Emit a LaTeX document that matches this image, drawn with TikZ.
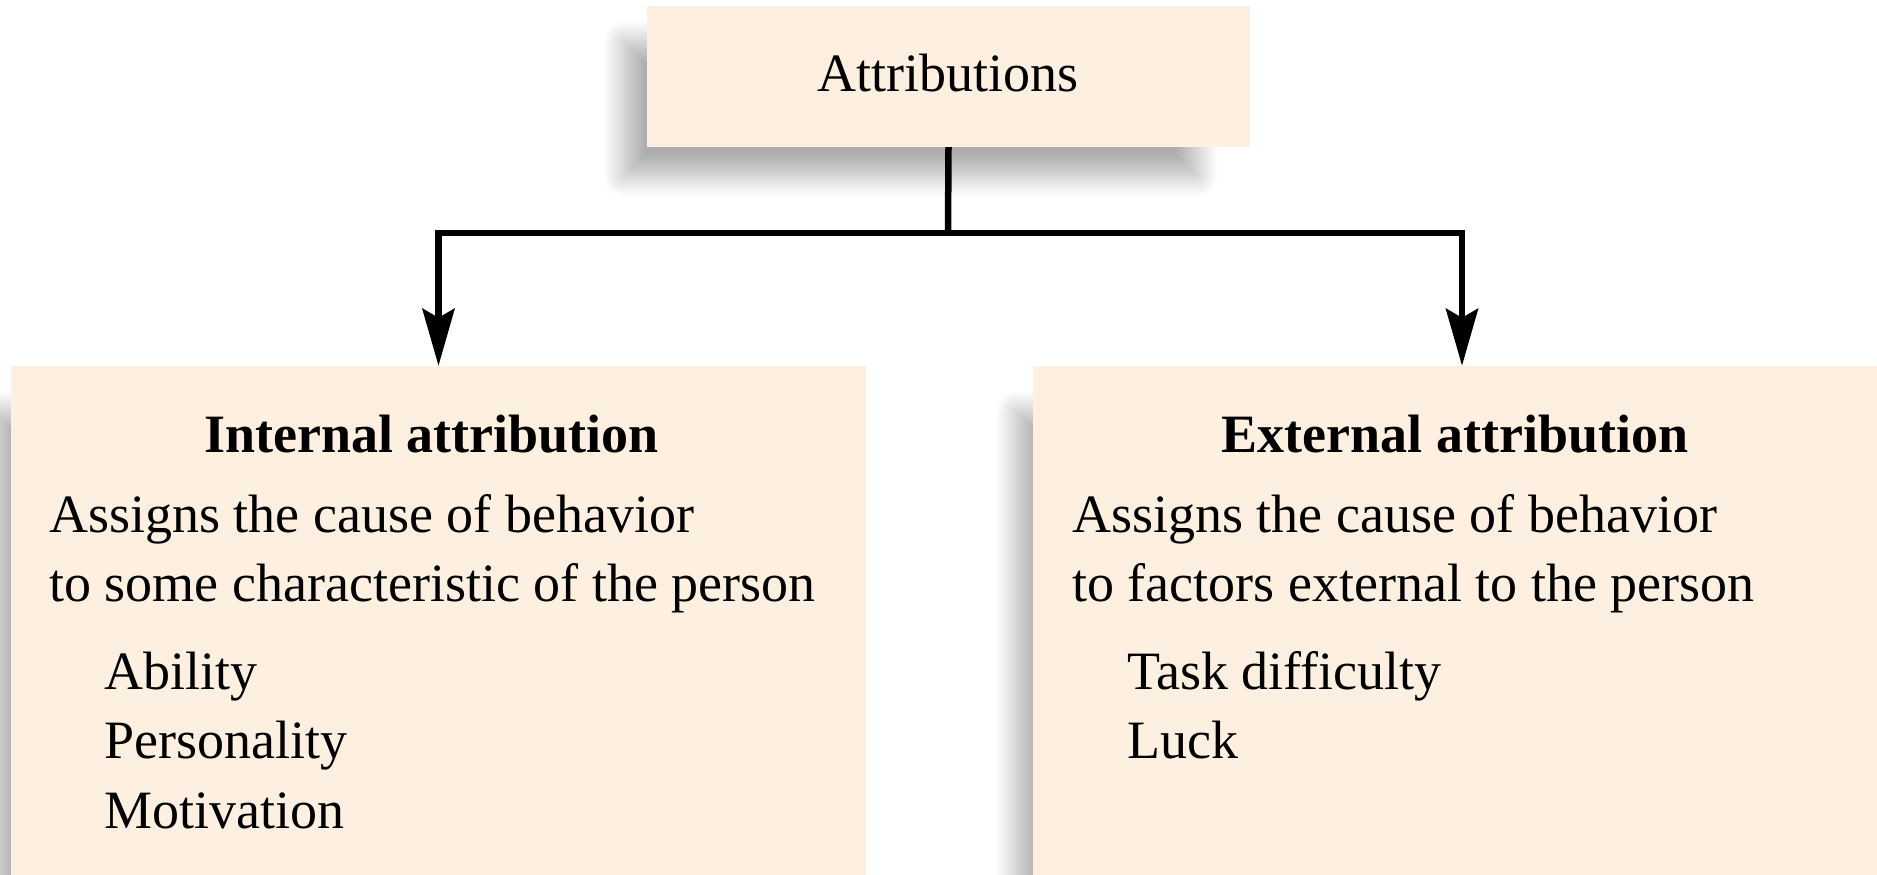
\documentclass[tikz,border=0pt]{standalone}
\usepackage{fontspec}
\setmainfont{Liberation Serif}
\usetikzlibrary{arrows.meta,shadows.blur}

\definecolor{boxfill}{RGB}{253,240,224}

\tikzset{
  panel/.style={draw=none, fill=boxfill, inner sep=0pt,
    blur shadow={shadow xshift=-40pt, shadow yshift=-34pt, shadow scale=0.95,
                 shadow blur radius=22pt, shadow blur steps=24,
                 shadow opacity=32}},
  txt/.style={inner sep=0pt, font=\fontsize{54}{66}\selectfont},
  head/.style={txt, font=\fontsize{54}{66}\selectfont\bfseries},
  link/.style={line width=6.5pt, black},
  tip/.style={-{Stealth[length=57pt, width=32pt, inset=9pt]}}
}

\begin{document}
\begin{tikzpicture}[x=1pt, y=-1pt]
  \useasboundingbox (0,0) rectangle (1877,875);

  % boxes
  \node[panel, minimum width=603pt, minimum height=141pt] (attr) at (948.5,76.5) {};
  \node[panel, minimum width=855pt, minimum height=540pt] (intl) at (438.5,636) {};
  \node[panel, minimum width=858pt, minimum height=540pt] (extl) at (1462,636) {};

  % top label
  \node[txt, anchor=base] (attrtxt) at (948,92) {Attributions};

  % connectors
  \coordinate (split) at (948,233);
  \draw[link] (attr.south) -- (split);
  \draw[link, tip] (split) -| (intl.north);
  \draw[link, tip] (split) -| (extl.north);

  % internal attribution
  \node[head, anchor=base] (ih) at (431.5,452) {Internal attribution};
  \node[txt, anchor=base west] (i1) at (49,532) {Assigns the cause of behavior};
  \node[txt, anchor=base west] (i2) at (49,601) {to some characteristic of the person};
  \node[txt, anchor=base west] (i3) at (104,689) {Ability};
  \node[txt, anchor=base west] (i4) at (104,758) {Personality};
  \node[txt, anchor=base west] (i5) at (104,828) {Motivation};

  % external attribution
  \node[head, anchor=base] (eh) at (1455,452) {External attribution};
  \node[txt, anchor=base west] (e1) at (1072,532) {Assigns the cause of behavior};
  \node[txt, anchor=base west] (e2) at (1072,601) {to factors external to the person};
  \node[txt, anchor=base west] (e3) at (1127,689) {Task difficulty};
  \node[txt, anchor=base west] (e4) at (1127,758) {Luck};
\end{tikzpicture}
\end{document}
